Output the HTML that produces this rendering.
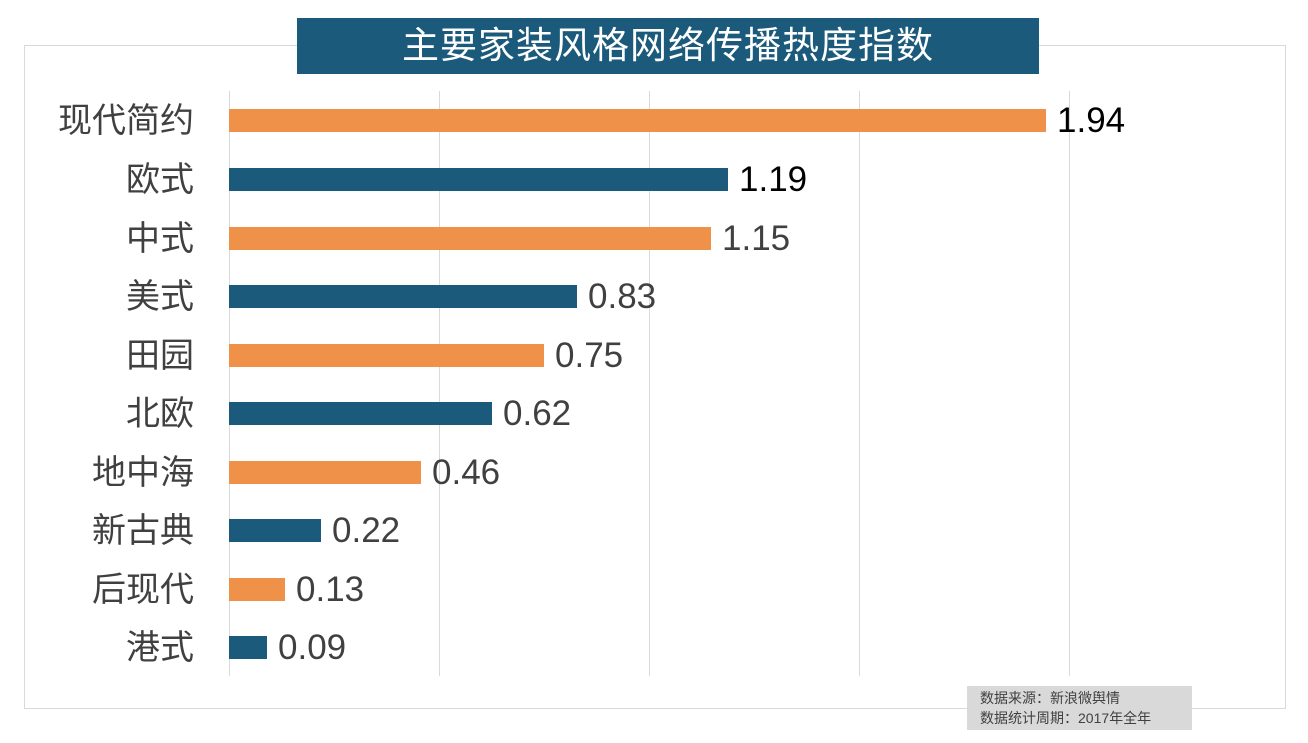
<!DOCTYPE html>
<html><head><meta charset="utf-8"><style>
body{margin:0;width:1308px;height:743px;background:#fff;position:relative;overflow:hidden;font-family:"Liberation Sans","Noto Sans CJK SC",sans-serif;}
.a{position:absolute;}
.frame{left:24px;top:45px;width:1260px;height:662px;border:1px solid #d9d9d9;}
.title{left:297px;top:18px;width:742px;height:56px;background:#1b5a7a;color:#fff;font-size:37px;line-height:56px;text-align:center;letter-spacing:1px;}
.grid{top:91px;width:1px;height:585px;background:#d9d9d9;}
.bar{left:229px;height:23px;}
.cat{right:1114px;font-size:34px;color:#404040;text-align:right;white-space:nowrap;line-height:40px;}
.val{font-size:35px;color:#404040;line-height:40px;}
.src{left:967px;top:686px;width:225px;height:44px;background:#d9d9d9;color:#404040;font-size:14px;line-height:20px;padding:2px 0 0 13px;box-sizing:border-box;white-space:nowrap;}
</style></head><body>
<div class="a frame"></div>
<div class="a title">主要家装风格网络传播热度指数</div>
<div class="a grid" style="left:229px"></div>
<div class="a grid" style="left:439px"></div>
<div class="a grid" style="left:649px"></div>
<div class="a grid" style="left:859px"></div>
<div class="a grid" style="left:1069px"></div>

<div class="a bar" style="top:109px;width:817px;background:#f0914a"></div>
<div class="a bar" style="top:168px;width:499px;background:#1b5a7a"></div>
<div class="a bar" style="top:227px;width:482px;background:#f0914a"></div>
<div class="a bar" style="top:285px;width:348px;background:#1b5a7a"></div>
<div class="a bar" style="top:344px;width:315px;background:#f0914a"></div>
<div class="a bar" style="top:402px;width:263px;background:#1b5a7a"></div>
<div class="a bar" style="top:461px;width:192px;background:#f0914a"></div>
<div class="a bar" style="top:519px;width:92px;background:#1b5a7a"></div>
<div class="a bar" style="top:578px;width:56px;background:#f0914a"></div>
<div class="a bar" style="top:636px;width:38px;background:#1b5a7a"></div>

<div class="a cat" style="top:101px">现代简约</div>
<div class="a cat" style="top:160px">欧式</div>
<div class="a cat" style="top:219px">中式</div>
<div class="a cat" style="top:277px">美式</div>
<div class="a cat" style="top:336px">田园</div>
<div class="a cat" style="top:394px">北欧</div>
<div class="a cat" style="top:453px">地中海</div>
<div class="a cat" style="top:511px">新古典</div>
<div class="a cat" style="top:570px">后现代</div>
<div class="a cat" style="top:628px">港式</div>

<div class="a val" style="top:101px;left:1057px;color:#000">1.94</div>
<div class="a val" style="top:160px;left:739px;color:#000">1.19</div>
<div class="a val" style="top:219px;left:722px">1.15</div>
<div class="a val" style="top:277px;left:588px">0.83</div>
<div class="a val" style="top:336px;left:555px">0.75</div>
<div class="a val" style="top:394px;left:503px">0.62</div>
<div class="a val" style="top:453px;left:432px">0.46</div>
<div class="a val" style="top:511px;left:332px">0.22</div>
<div class="a val" style="top:570px;left:296px">0.13</div>
<div class="a val" style="top:628px;left:278px">0.09</div>

<div class="a src">数据来源：新浪微舆情<br>数据统计周期：2017年全年</div>
</body></html>
